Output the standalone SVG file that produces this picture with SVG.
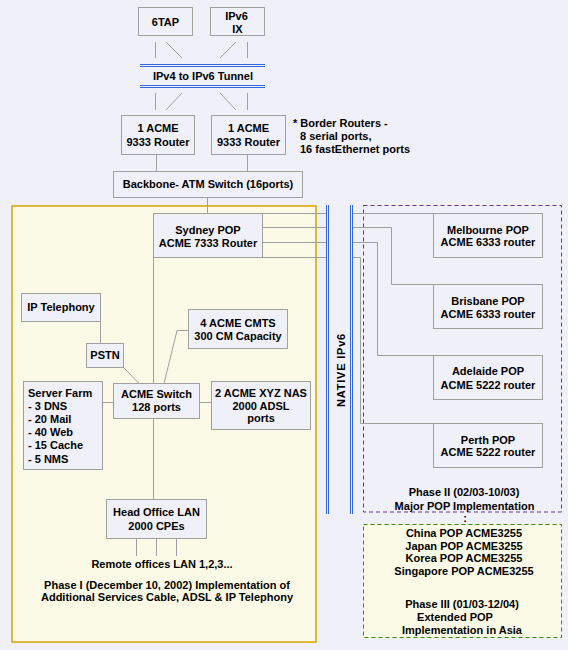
<svg xmlns="http://www.w3.org/2000/svg" width="568" height="650" viewBox="0 0 568 650">
<style>
.bg{fill:#F0F0F8}
.box{fill:#F0F0F8;stroke:#A0A0A0;stroke-width:1}
.ln{fill:none;stroke:#A0A0A0;stroke-width:1}
.blue{fill:none;stroke:#3366DD;stroke-width:1}
.t{font-family:"Liberation Sans",Arial,sans-serif;font-weight:bold;font-size:11px;fill:#000;text-anchor:middle}
.l{text-anchor:start}
</style>
<rect class="bg" x="0" y="0" width="568" height="650"/>

<g id="phase1-region">
<rect x="12" y="206" width="304" height="436" fill="#FAFAE6" stroke="#D9A400" stroke-width="1.5"/>
</g>
<g id="phase2-region">
<rect x="363.5" y="205.5" width="198" height="306.5" fill="none" stroke="#663399" stroke-width="1" stroke-dasharray="4,3"/>
</g>
<g id="phase3-region">
<rect x="363.5" y="524.5" width="198" height="113" fill="#FAFAE6" stroke="#3D8C00" stroke-width="1" stroke-dasharray="4,3"/>
</g>

<g id="connectors">
<path class="ln" d="M155.5,42V58M166,42L182,58M236,42L220,58M247.5,42V58"/>
<path class="ln" d="M155.5,93V110M182,93L166,110M220,93L236,110M247.5,93V110"/>
<path class="ln" d="M156.5,154.5V171.5M247.5,154.5V171.5"/>
<path class="ln" d="M207.5,197.5V213.5"/>
<path class="ln" d="M262.5,213.5H327M262.5,227.5H327M262.5,242.5H327M262.5,257.5H327"/>
<path class="ln" d="M352,213.5H433.5M352,227.5H391.5V284.5H433.5M352,242.5H377.5V355.5H433.5M352,257.5H360.5V423.5H433.5"/>
<path class="ln" d="M153.5,257.5V499.5"/>
<path class="ln" d="M100.5,321.5V343.5"/>
<path class="ln" d="M123,367L139,383.5"/>
<path class="ln" d="M188.5,330.5H177L164,383.5"/>
<path class="ln" d="M102.5,402.5H113.5M199.5,402.5H211.5"/>
<path class="ln" d="M136.5,538.5V556M156.5,538.5V556M176.5,538.5V556"/>
</g>

<g id="tunnel">
<path class="blue" d="M140,64.5H265M140,66.5H265M140,85.5H265M140,87.5H265"/>
<text class="t" x="203" y="80">IPv4 to IPv6 Tunnel</text>
</g>

<g id="native-ipv6">
<path class="blue" d="M326.5,205V514M328.5,205V514M350.5,205V514M352.5,205V514"/>
<text class="t" transform="translate(344.5,370) rotate(-90)" letter-spacing="0.8">NATIVE IPv6</text>
</g>

<g id="6tap">
<rect class="box" x="138.5" y="7.5" width="54" height="28"/>
<text class="t" x="165.5" y="26">6TAP</text>
</g>
<g id="ipv6-ix">
<rect class="box" x="210.5" y="7.5" width="54" height="28"/>
<text class="t" x="236.5" y="20">IPv6</text>
<text class="t" x="237.5" y="33">IX</text>
</g>
<g id="router1">
<rect class="box" x="121.5" y="115.5" width="73" height="39"/>
<text class="t" x="158" y="132">1 ACME</text>
<text class="t" x="158" y="146">9333 Router</text>
</g>
<g id="router2">
<rect class="box" x="211.5" y="115.5" width="74" height="39"/>
<text class="t" x="248.5" y="132">1 ACME</text>
<text class="t" x="248.5" y="146">9333 Router</text>
</g>
<g id="border-note">
<text class="t l" x="293" y="127">* Border Routers -</text>
<text class="t l" x="300" y="140">8 serial ports,</text>
<text class="t l" x="300" y="153">16 fastEthernet ports</text>
</g>
<g id="backbone">
<rect class="box" x="113.5" y="171.5" width="189" height="26"/>
<text class="t" x="208" y="188" font-size="11.5px">Backbone- ATM Switch (16ports)</text>
</g>
<g id="sydney">
<rect class="box" x="153.5" y="213.5" width="109" height="44"/>
<text class="t" x="208" y="233.5">Sydney POP</text>
<text class="t" x="208" y="246.5">ACME 7333 Router</text>
</g>
<g id="ip-telephony">
<rect class="box" x="21.5" y="293.5" width="79" height="28"/>
<text class="t" x="61" y="311">IP Telephony</text>
</g>
<g id="cmts">
<rect class="box" x="188.5" y="309.5" width="99" height="39"/>
<text class="t" x="238" y="327">4 ACME CMTS</text>
<text class="t" x="238" y="339.5">300 CM Capacity</text>
</g>
<g id="pstn">
<rect class="box" x="86.5" y="343.5" width="37" height="24"/>
<text class="t" x="105" y="359">PSTN</text>
</g>
<g id="server-farm">
<rect class="box" x="23.5" y="381.5" width="79" height="88"/>
<text class="t l" x="28" y="396.5">Server Farm</text>
<text class="t l" x="28" y="409.7">- 3 DNS</text>
<text class="t l" x="28" y="422.9">- 20 Mail</text>
<text class="t l" x="28" y="436.1">- 40 Web</text>
<text class="t l" x="28" y="449.3">- 15 Cache</text>
<text class="t l" x="28" y="462.5">- 5 NMS</text>
</g>
<g id="acme-switch">
<rect class="box" x="113.5" y="383.5" width="86" height="35"/>
<text class="t" x="156.5" y="398">ACME Switch</text>
<text class="t" x="156.5" y="411">128 ports</text>
</g>
<g id="nas">
<rect class="box" x="211.5" y="381.5" width="99" height="48"/>
<text class="t" x="261" y="397">2 ACME XYZ NAS</text>
<text class="t" x="261" y="409.5">2000 ADSL</text>
<text class="t" x="261" y="422">ports</text>
</g>
<g id="head-office">
<rect class="box" x="106.5" y="499.5" width="100" height="39"/>
<text class="t" x="156.5" y="516">Head Office LAN</text>
<text class="t" x="156.5" y="529.5">2000 CPEs</text>
</g>
<g id="phase1-labels">
<text class="t" x="162" y="567.5">Remote offices LAN 1,2,3...</text>
<text class="t" x="167" y="588.5">Phase I (December 10, 2002) Implementation of</text>
<text class="t" x="167" y="601">Additional Services Cable, ADSL &amp; IP Telephony</text>
</g>
<g id="melbourne">
<rect class="box" x="433.5" y="213.5" width="109" height="44"/>
<text class="t" x="488" y="233.5">Melbourne POP</text>
<text class="t" x="488" y="246">ACME 6333 router</text>
</g>
<g id="brisbane">
<rect class="box" x="433.5" y="284.5" width="109" height="44"/>
<text class="t" x="488" y="304.5">Brisbane POP</text>
<text class="t" x="488" y="317.5">ACME 6333 router</text>
</g>
<g id="adelaide">
<rect class="box" x="433.5" y="355.5" width="109" height="44"/>
<text class="t" x="488" y="375">Adelaide POP</text>
<text class="t" x="488" y="388.5">ACME 5222 router</text>
</g>
<g id="perth">
<rect class="box" x="433.5" y="423.5" width="109" height="44"/>
<text class="t" x="488" y="443.5">Perth POP</text>
<text class="t" x="488" y="456">ACME 5222 router</text>
</g>
<g id="phase2-labels">
<text class="t" x="464" y="496">Phase II (02/03-10/03)</text>
<text class="t" x="464.5" y="509.5">Major POP Implementation</text>
<text class="t" x="465" y="522">:</text>
</g>
<g id="phase3-labels">
<text class="t" x="464" y="536.5">China POP ACME3255</text>
<text class="t" x="464" y="549.5">Japan POP ACME3255</text>
<text class="t" x="464" y="562">Korea POP ACME3255</text>
<text class="t" x="464" y="575">Singapore POP ACME3255</text>
<text class="t" x="462" y="607.5">Phase III (01/03-12/04)</text>
<text class="t" x="455" y="620.5">Extended POP</text>
<text class="t" x="462" y="633.5">Implementation in Asia</text>
</g>
</svg>
